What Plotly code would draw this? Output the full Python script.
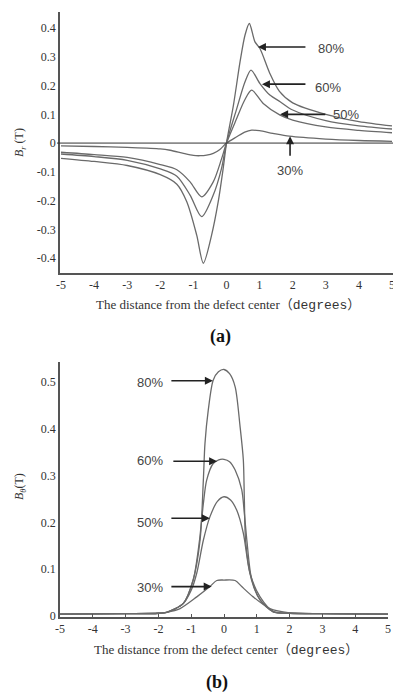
import plotly.graph_objects as go

# ---------------- data: panel (a) radial component Br (T) ----------------
xa_80 = [-5, -4, -3, -2, -1.5, -1.2, -0.9, -0.7, -0.45, -0.25, -0.1, 0, 0.21, 0.41, 0.56, 0.69, 0.86, 1.01, 1.3, 1.6, 2, 3, 4, 5]
ya_80 = [-0.053, -0.064, -0.078, -0.11, -0.143, -0.204, -0.32, -0.418, -0.32, -0.204, -0.088, 0, 0.132, 0.283, 0.376, 0.416, 0.352, 0.329, 0.245, 0.18, 0.14, 0.1, 0.075, 0.06]

xa_60 = [-5, -4, -3, -2, -1.5, -1.1, -0.75, -0.4, -0.15, 0, 0.31, 0.56, 0.74, 1.01, 1.31, 1.62, 2, 3, 4, 5]
ya_60 = [-0.038, -0.047, -0.06, -0.09, -0.115, -0.181, -0.256, -0.181, -0.088, 0, 0.12, 0.213, 0.254, 0.207, 0.167, 0.144, 0.115, 0.078, 0.06, 0.049]

xa_50 = [-5, -4, -3, -2, -1.5, -1.1, -0.75, -0.4, -0.15, 0, 0.31, 0.55, 0.76, 1.11, 1.62, 2, 3, 4, 5]
ya_50 = [-0.032, -0.04, -0.05, -0.075, -0.093, -0.135, -0.187, -0.135, -0.055, 0, 0.086, 0.15, 0.184, 0.138, 0.097, 0.08, 0.056, 0.044, 0.036]

xa_30 = [-5, -4, -3, -2, -1.7, -1.3, -1.0, -0.8, -0.6, -0.4, -0.2, 0, 0.31, 0.55, 0.76, 1.0, 1.4, 1.9, 3, 4, 5]
ya_30 = [-0.01, -0.012, -0.015, -0.02, -0.025, -0.036, -0.043, -0.044, -0.042, -0.036, -0.022, 0, 0.022, 0.038, 0.045, 0.043, 0.034, 0.024, 0.014, 0.009, 0.006]

# ---------------- data: panel (b) tangential component Bθ (T) ----------------
xb_80 = [-5, -3, -2, -1.75, -1.24, -0.94, -0.73, -0.63, -0.58, -0.48, -0.33, -0.17, 0, 0.17, 0.34, 0.49, 0.59, 0.62, 0.66, 0.84, 1.1, 1.5, 2, 3, 5]
yb_80 = [0.004, 0.005, 0.006, 0.008, 0.027, 0.077, 0.162, 0.29, 0.369, 0.44, 0.504, 0.522, 0.527, 0.518, 0.49, 0.405, 0.333, 0.25, 0.16, 0.077, 0.034, 0.009, 0.006, 0.005, 0.004]

xb_60 = [-5, -3, -2, -1.75, -1.24, -0.94, -0.75, -0.63, -0.53, -0.33, -0.16, 0, 0.17, 0.34, 0.54, 0.62, 0.7, 0.84, 1.1, 1.5, 2, 3, 5]
yb_60 = [0.004, 0.005, 0.006, 0.008, 0.027, 0.077, 0.16, 0.24, 0.29, 0.326, 0.334, 0.335, 0.33, 0.312, 0.27, 0.22, 0.16, 0.08, 0.035, 0.009, 0.006, 0.005, 0.004]

xb_50 = [-5, -3, -2, -1.75, -1.24, -1.0, -0.83, -0.63, -0.43, -0.2, 0, 0.2, 0.39, 0.59, 0.79, 1.1, 1.5, 2, 3, 5]
yb_50 = [0.004, 0.005, 0.006, 0.008, 0.027, 0.055, 0.092, 0.162, 0.212, 0.245, 0.255, 0.248, 0.226, 0.177, 0.092, 0.041, 0.01, 0.006, 0.005, 0.004]

xb_30 = [-5, -3, -2, -1.75, -1.34, -0.83, -0.43, -0.22, 0, 0.34, 0.54, 0.89, 1.4, 2, 3, 5]
yb_30 = [0.004, 0.005, 0.006, 0.008, 0.016, 0.041, 0.063, 0.076, 0.077, 0.076, 0.063, 0.041, 0.016, 0.007, 0.005, 0.004]

# tick labels
x_ticks = [-5, -4, -3, -2, -1, 0, 1, 2, 3, 4, 5]
x_ticktext = ["-5", "-4", "-3", "-2", "-1", "0", "1", "2", "3", "4", "5"]
ya_ticks = [-0.4, -0.3, -0.2, -0.1, 0, 0.1, 0.2, 0.3, 0.4]
ya_ticktext = ["-0.4", "-0.3", "-0.2", "-0.1", "0", "0.1", "0.2", "0.3", "0.4"]
yb_ticks = [0, 0.1, 0.2, 0.3, 0.4, 0.5]
yb_ticktext = ["0", "0.1", "0.2", "0.3", "0.4", "0.5"]

# depth labels with arrow (head x, head y, tail x, tail y, text x, text y)
labels = ["80%", "60%", "50%", "30%"]
a_head_x = [0.95, 1.07, 1.62, 1.92]
a_head_y = [0.334, 0.205, 0.1, 0.024]
a_tail_x = [2.43, 2.43, 3.03, 1.92]
a_tail_y = [0.334, 0.205, 0.1, -0.049]
a_text_x = [3.16, 3.07, 3.6, 1.92]
a_text_y = [0.33, 0.195, 0.1, -0.097]

b_head_x = [-0.34, -0.21, -0.43, -0.375]
b_head_y = [0.503, 0.331, 0.209, 0.063]
b_tail_x = [-1.65, -1.59, -1.65, -1.65]
b_tail_y = [0.503, 0.331, 0.209, 0.063]
b_text_x = [-2.26, -2.26, -2.26, -2.26]
b_text_y = [0.5, 0.332, 0.2, 0.061]

W, H = 393, 693
LINE = "#6a6a6a"
AXC = "#555555"
TXT = "#333333"
SERIF = "Liberation Serif, Times New Roman, serif"
SANS = "Liberation Sans, Arial, sans-serif"

fig = go.Figure()

for xs, ys in [(xa_80, ya_80), (xa_60, ya_60), (xa_50, ya_50), (xa_30, ya_30)]:
    fig.add_trace(go.Scatter(x=xs, y=ys, mode="lines", xaxis="x", yaxis="y",
                             line=dict(color=LINE, width=1.3, shape="spline", smoothing=0.8),
                             showlegend=False, hoverinfo="skip"))
for xs, ys in [(xb_80, yb_80), (xb_60, yb_60), (xb_50, yb_50), (xb_30, yb_30)]:
    fig.add_trace(go.Scatter(x=xs, y=ys, mode="lines", xaxis="x2", yaxis="y2",
                             line=dict(color=LINE, width=1.3, shape="spline", smoothing=0.8),
                             showlegend=False, hoverinfo="skip"))


def px_x(p):
    return p / W


def px_y(p):
    return 1 - p / H


axis_common = dict(showgrid=False, zeroline=False, showline=True, linecolor=AXC, linewidth=1.5,
                   automargin=False, ticklabeloverflow="allow",
                   tickfont=dict(family=SERIF, size=12, color=TXT), fixedrange=True)

fig.update_layout(
    width=W, height=H, margin=dict(l=0, r=0, t=0, b=0, autoexpand=False),
    paper_bgcolor="white", plot_bgcolor="white",
    xaxis=dict(domain=[px_x(60), 1.0], range=[-5.03, 5.03], anchor="y",
               tickmode="array", tickvals=x_ticks, ticktext=x_ticktext, ticks="", **axis_common),
    yaxis=dict(domain=[px_y(273), px_y(12)], range=[-0.452, 0.456], anchor="x",
               tickmode="array", tickvals=ya_ticks, ticktext=ya_ticktext, ticks="", **axis_common),
    xaxis2=dict(domain=[px_x(60), px_x(388)], range=[-5, 5], anchor="y2",
                tickmode="array", tickvals=x_ticks, ticktext=x_ticktext, ticks="inside", ticklen=3,
                tickcolor=AXC, **axis_common),
    yaxis2=dict(domain=[px_y(617), px_y(362)], range=[-0.002, 0.543], anchor="x2",
                tickmode="array", tickvals=yb_ticks, ticktext=yb_ticktext, ticks="", **axis_common),
)

# zero line in panel (a)
fig.add_shape(type="line", xref="paper", yref="y", x0=px_x(57), x1=1.0, y0=0, y1=0,
              line=dict(color="#333333", width=1))

ann = []
for i, t in enumerate(labels):
    ann.append(dict(xref="x", yref="y", axref="x", ayref="y", x=a_head_x[i], y=a_head_y[i],
                    ax=a_tail_x[i], ay=a_tail_y[i], text="", showarrow=True, arrowhead=2,
                    arrowsize=1, arrowwidth=1.6, arrowcolor="#222222"))
    ann.append(dict(xref="x", yref="y", x=a_text_x[i], y=a_text_y[i], text=t, showarrow=False,
                    xanchor="center", yanchor="middle",
                    font=dict(family=SANS, size=13, color="#444444")))
    ann.append(dict(xref="x2", yref="y2", axref="x2", ayref="y2", x=b_head_x[i], y=b_head_y[i],
                    ax=b_tail_x[i], ay=b_tail_y[i], text="", showarrow=True, arrowhead=2,
                    arrowsize=1, arrowwidth=1.6, arrowcolor="#222222"))
    ann.append(dict(xref="x2", yref="y2", x=b_text_x[i], y=b_text_y[i], text=t, showarrow=False,
                    xanchor="center", yanchor="middle",
                    font=dict(family=SANS, size=13, color="#444444")))

xtitle = ("The distance from the defect center"
          "<span style='font-family:Noto Sans CJK SC'>（</span>"
          "<span style='font-family:Liberation Mono'>degrees</span>"
          "<span style='font-family:Noto Sans CJK SC'>）</span>")


def paper_text(x, y, text, size, color=TXT, angle=0):
    return dict(xref="paper", yref="paper", x=px_x(x), y=px_y(y), text=text, showarrow=False,
                xanchor="center", yanchor="middle", textangle=angle,
                font=dict(family=SERIF, size=size, color=color))


ann.append(paper_text(228, 303, xtitle, 13))
ann.append(paper_text(226, 648, xtitle, 13))
ann.append(paper_text(20, 143, "<i>B</i><sub><i>r</i></sub> (T)", 12, angle=-90))
ann.append(paper_text(20, 487, "<i>B</i><sub><i>θ</i></sub>(T)", 12, angle=-90))
ann.append(paper_text(220, 337, "<b>(a)</b>", 18, color="#111111"))
ann.append(paper_text(217, 682, "<b>(b)</b>", 18, color="#111111"))

fig.update_layout(annotations=ann)

fig.write_html("out.html")
